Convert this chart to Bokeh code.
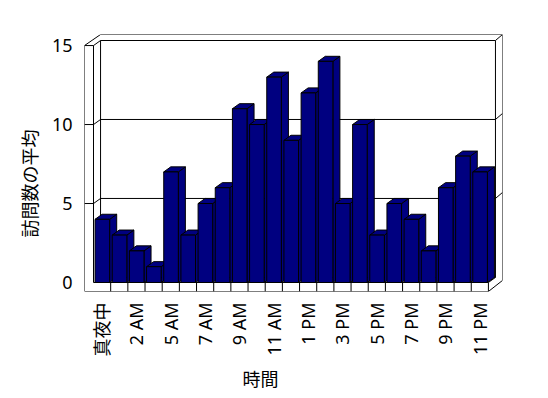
import math
from bokeh.plotting import figure
from bokeh.models import Range1d, LinearAxis, FixedTicker, Title
from bokeh.embed import file_html
from bokeh.resources import INLINE

# ---- data ----
categories = ["真夜中", "1 AM", "2 AM", "3 AM", "5 AM", "6 AM", "7 AM", "8 AM",
              "9 AM", "10 AM", "11 AM", "正午", "1 PM", "2 PM", "3 PM", "4 PM",
              "5 PM", "6 PM", "7 PM", "8 PM", "9 PM", "10 PM", "11 PM"]
visits = [4, 3, 2, 1, 7, 3, 5, 6, 11, 10, 13, 9, 12, 14, 5, 10, 3, 5, 4, 2, 6, 8, 7]
y_ticks = [0, 5, 10, 15]
grid_values = [5, 10]
x_title = "時間"
y_title = "訪問数の平均"

# ---- 3D geometry (data units) ----
n = len(categories)
YMAX = 15
DX, DY = 0.41, 0.32          # depth of the plot box
BX, BY = 0.41, 0.38          # back-wall slab thickness
WALL = 0.525                 # left slab thickness
FLOOR = 0.57                 # floor slab thickness
XL, XR = -0.5, n - 0.5       # front-plane category band

x0 = XL - WALL
x1 = XR + DX + BX
y0 = -FLOOR
y1 = YMAX + DY + BY

FONT = "Noto Sans, Noto Sans CJK JP"
CJK = "Noto Sans CJK JP"
NAVY = "#000080"

p = figure(width=548, height=398, x_range=Range1d(x0, x1), y_range=Range1d(y0, y1),
           x_axis_type=None, y_axis_type=None, output_backend="svg",
           toolbar_location=None, min_border_left=84, min_border_right=46,
           min_border_top=34, min_border_bottom=107)
p.outline_line_color = None
p.background_fill_color = "white"
p.border_fill_color = "white"
p.xgrid.visible = False
p.ygrid.visible = False

# ---- box frame ----
xs, ys = [], []
def seg(a, b):
    xs.append([a[0], b[0]]); ys.append([a[1], b[1]])

seg((x0, y0), (x0, YMAX))
seg((x0, YMAX), (XL + DX, y1))
seg((XL + DX, y1), (x1, y1))
seg((x1, y1), (x1, y0 + DY + BY))
seg((XR, y0), (x1, y0 + DY + BY))
seg((x0, y0), (XR, y0))
seg((XL, 0), (XL, YMAX))
seg((x0, YMAX), (XL, YMAX))
seg((XL, YMAX), (XL + DX, YMAX + DY))
seg((XL + DX, DY), (XL + DX, YMAX + DY))
seg((XL + DX, YMAX + DY), (XR + DX, YMAX + DY))
seg((XR + DX, DY), (XR + DX, YMAX + DY))
seg((XR + DX, YMAX + DY), (x1, y1))
seg((XL, 0), (XR, 0))
seg((XR, y0), (XR, 0))
seg((XR, 0), (XR + DX, DY))
seg((XL + DX, DY), (XR + DX, DY))
for g in grid_values:
    seg((x0, g), (XL, g))
    seg((XL, g), (XL + DX, g + DY))
    seg((XL + DX, g + DY), (XR + DX, g + DY))
    seg((XR + DX, g + DY), (x1, g + DY + BY))
for k in range(1, n):
    seg((k - 0.5, y0), (k - 0.5, 0))
p.multi_line(xs, ys, line_color="black", line_width=1)

# ---- 3D bars ----
BL, BR = -0.41, 0.44
side_x, side_y, top_x, top_y = [], [], [], []
for c, v in enumerate(visits):
    l, r = c + BL, c + BR
    side_x.append([r, r + DX, r + DX, r]); side_y.append([0, DY, v + DY, v])
    top_x.append([l, r, r + DX, l + DX]); top_y.append([v, v, v + DY, v + DY])
p.patches(side_x, side_y, fill_color=NAVY, line_color="black", line_width=1)
p.patches(top_x, top_y, fill_color=NAVY, line_color="black", line_width=1)
p.quad(left=[c + BL for c in range(n)], right=[c + BR for c in range(n)],
       bottom=0, top=visits, fill_color=NAVY, line_color="black", line_width=1)

# ---- axes ----
yaxis = LinearAxis(ticker=FixedTicker(ticks=y_ticks))
xaxis = LinearAxis(ticker=FixedTicker(ticks=list(range(0, n, 2))),
                   major_label_overrides={i: categories[i] for i in range(0, n, 2)},
                   major_label_orientation=math.pi / 2)
for ax in (yaxis, xaxis):
    ax.axis_line_color = None
    ax.major_tick_line_color = None
    ax.minor_tick_line_color = None
    ax.major_tick_out = 0
    ax.major_tick_in = 0
    ax.major_label_text_font = FONT
    ax.major_label_text_font_size = "18px"
    ax.major_label_text_color = "black"
yaxis.major_label_standoff = 12
xaxis.major_label_standoff = 11
p.add_layout(yaxis, "left")
p.add_layout(xaxis, "below")

# ---- axis titles ----
p.add_layout(Title(text=y_title, align="left", offset=54, standoff=14,
                   text_font=CJK, text_font_size="18px", text_font_style="normal",
                   text_color="black"), "left")
p.add_layout(Title(text=x_title, align="left", offset=158, standoff=7,
                   text_font=CJK, text_font_size="18px", text_font_style="normal",
                   text_color="black"), "below")

open("out.html", "w").write(file_html(p, INLINE))
